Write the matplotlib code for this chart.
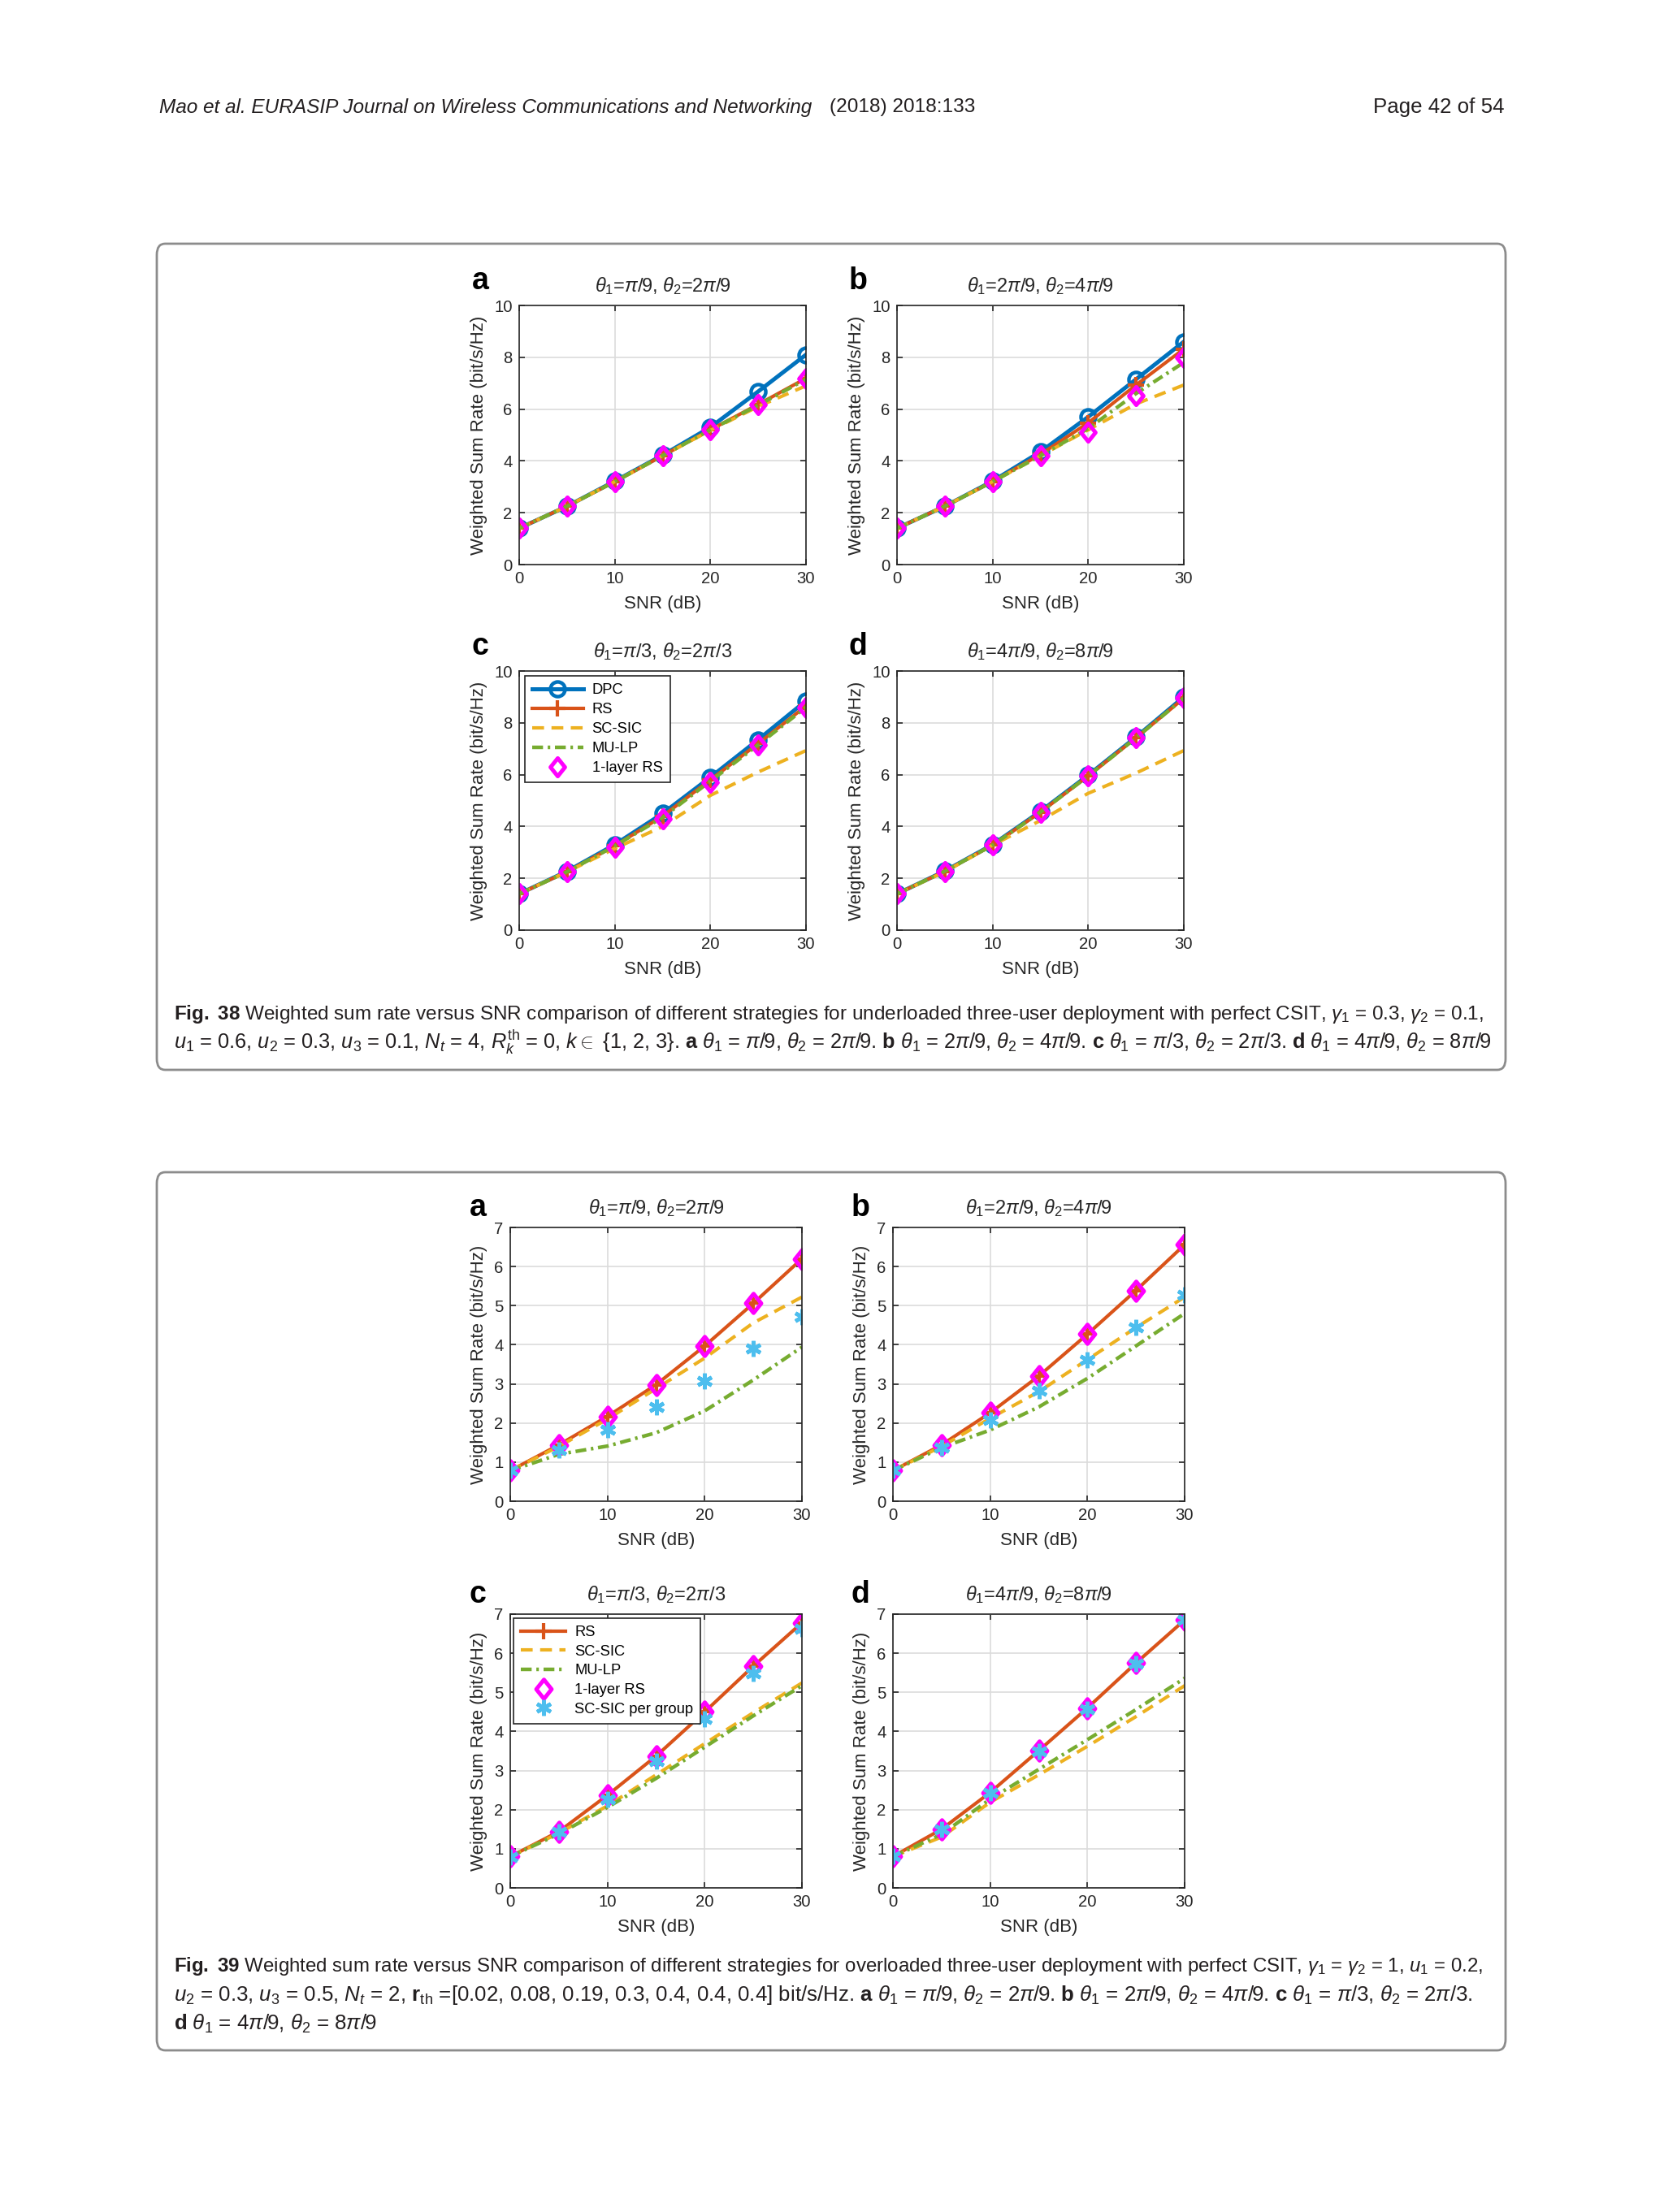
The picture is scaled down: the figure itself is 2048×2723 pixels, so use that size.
import numpy as np
import matplotlib.pyplot as plt
from matplotlib.patches import FancyBboxPatch
from matplotlib.path import Path

plt.rcParams['font.family'] = ['Liberation Sans', 'DejaVu Sans']
plt.rcParams['mathtext.fontset'] = 'custom'
plt.rcParams['mathtext.rm'] = 'Liberation Sans'
plt.rcParams['mathtext.it'] = 'Liberation Sans:italic'
plt.rcParams['mathtext.bf'] = 'Liberation Sans:bold'

# ---- data ----
snr = [0, 5, 10, 15, 20, 25, 30]
panel_letters = ['a', 'b', 'c', 'd']
panel_titles = [
    r'$\theta_1$=$\pi$/9, $\theta_2$=2$\pi$/9',
    r'$\theta_1$=2$\pi$/9, $\theta_2$=4$\pi$/9',
    r'$\theta_1$=$\pi$/3, $\theta_2$=2$\pi$/3',
    r'$\theta_1$=4$\pi$/9, $\theta_2$=8$\pi$/9',
]

# Fig. 38: underloaded three-user deployment (panels a-d)
dpc_38 = [
    [1.40, 2.25, 3.22, 4.22, 5.30, 6.68, 8.10],
    [1.40, 2.25, 3.22, 4.35, 5.70, 7.15, 8.60],
    [1.40, 2.27, 3.30, 4.50, 5.90, 7.35, 8.85],
    [1.40, 2.28, 3.30, 4.58, 5.98, 7.45, 9.00],
]
rs_38 = [
    [1.40, 2.25, 3.20, 4.20, 5.20, 6.18, 7.19],
    [1.40, 2.25, 3.20, 4.25, 5.47, 6.93, 8.32],
    [1.40, 2.25, 3.25, 4.40, 5.80, 7.20, 8.65],
    [1.40, 2.27, 3.28, 4.55, 5.95, 7.42, 8.95],
]
scsic_38 = [
    [1.40, 2.25, 3.20, 4.20, 5.18, 6.10, 6.90],
    [1.40, 2.25, 3.20, 4.20, 5.20, 6.20, 6.93],
    [1.40, 2.25, 3.15, 4.00, 5.20, 6.10, 6.93],
    [1.40, 2.25, 3.28, 4.23, 5.28, 6.06, 6.93],
]
mulp_38 = [
    [1.40, 2.25, 3.20, 4.20, 5.20, 6.15, 7.15],
    [1.40, 2.25, 3.20, 4.20, 5.25, 6.60, 7.80],
    [1.40, 2.25, 3.25, 4.35, 5.75, 7.15, 8.60],
    [1.40, 2.27, 3.28, 4.55, 5.95, 7.42, 8.95],
]
onelayer_38 = [
    [1.40, 2.25, 3.20, 4.20, 5.20, 6.18, 7.19],
    [1.40, 2.25, 3.20, 4.20, 5.10, 6.52, 7.98],
    [1.40, 2.25, 3.20, 4.30, 5.70, 7.15, 8.60],
    [1.40, 2.27, 3.28, 4.55, 5.95, 7.42, 8.95],
]

# Fig. 39: overloaded three-user deployment (panels a-d)
rs_39 = [
    [0.78, 1.44, 2.17, 2.98, 3.97, 5.06, 6.20],
    [0.78, 1.44, 2.26, 3.20, 4.27, 5.39, 6.56],
    [0.80, 1.44, 2.37, 3.37, 4.50, 5.67, 6.78],
    [0.80, 1.50, 2.44, 3.51, 4.60, 5.75, 6.85],
]
scsic_39 = [
    [0.78, 1.40, 2.10, 2.88, 3.66, 4.56, 5.22],
    [0.78, 1.40, 2.12, 2.80, 3.62, 4.44, 5.22],
    [0.80, 1.40, 2.10, 2.89, 3.69, 4.48, 5.24],
    [0.80, 1.30, 2.19, 2.89, 3.62, 4.38, 5.17],
]
mulp_39 = [
    [0.78, 1.20, 1.41, 1.75, 2.31, 3.10, 3.94],
    [0.78, 1.37, 1.82, 2.41, 3.14, 3.97, 4.80],
    [0.80, 1.38, 2.06, 2.80, 3.60, 4.40, 5.17],
    [0.80, 1.37, 2.27, 3.03, 3.79, 4.56, 5.36],
]
onelayer_39 = [
    [0.78, 1.44, 2.16, 2.98, 3.96, 5.06, 6.20],
    [0.78, 1.44, 2.26, 3.20, 4.27, 5.39, 6.56],
    [0.80, 1.44, 2.37, 3.37, 4.50, 5.67, 6.78],
    [0.80, 1.50, 2.44, 3.51, 4.60, 5.75, 6.85],
]
pergroup_39 = [
    [0.78, 1.30, 1.82, 2.40, 3.07, 3.90, 4.72],
    [0.78, 1.38, 2.08, 2.83, 3.62, 4.44, 5.28],
    [0.78, 1.43, 2.27, 3.25, 4.33, 5.48, 6.62],
    [0.80, 1.50, 2.44, 3.48, 4.58, 5.74, 6.85],
]

# ---- styles (MATLAB default colours) ----
C_DPC = '#0072BD'
C_RS = '#D95319'
C_SC = '#EDB120'
C_MU = '#77AC30'
C_1L = '#FF00FF'
C_PG = '#4DBEEE'
C_TXT = '#231f20'

# MATLAB-like diamond (wider than matplotlib's 'd')
DIAMOND = Path([(0, 1), (0.8, 0), (0, -1), (-0.8, 0), (0, 1)],
               [Path.MOVETO, Path.LINETO, Path.LINETO, Path.LINETO,
                Path.CLOSEPOLY])

W, H = 2048, 2723
fig = plt.figure(figsize=(W / 200, H / 200), dpi=200)
renderer = fig.canvas.get_renderer()


def fx(px):
    return px / W


def fy(py):
    return 1 - py / H


def fit_text(t, width_px):
    # scale the font so the text spans the wanted width in pixels
    w = t.get_window_extent(renderer).width
    t.set_fontsize(t.get_fontsize() * width_px / w)
    return t


def make_axes(x0, y0, x1, y1):
    ax = fig.add_axes([fx(x0), fy(y1), (x1 - x0) / W, (y1 - y0) / H])
    ax.set_axisbelow(True)
    ax.grid(True, color='#dcdcdc', lw=0.6)
    for sp in ax.spines.values():
        sp.set_color('#262626')
        sp.set_linewidth(0.6)
    ax.tick_params(direction='in', top=True, right=True, length=2.5,
                   width=0.6, labelsize=7.3, colors='#262626', pad=3)
    ax.set_xlim(0, 30)
    ax.set_xticks([0, 10, 20, 30])
    ax.set_xlabel('SNR (dB)', fontsize=8, color='#262626', labelpad=4)
    ax.set_ylabel('Weighted Sum Rate (bit/s/Hz)', fontsize=8,
                  color='#262626', labelpad=3)
    return ax


# ---- page decorations ----
head = fig.text(fx(196), fy(132),
                'Mao et al. EURASIP Journal on Wireless Communications and Networking',
                fontsize=9.5, style='italic', va='center', ha='left', color=C_TXT)
fit_text(head, 804)
fig.text(fx(1021), fy(132), '(2018) 2018:133', fontsize=head.get_fontsize(),
         va='center', ha='left', color=C_TXT)
fig.text(fx(1852), fy(132), 'Page 42 of 54', fontsize=9.3, va='center',
         ha='right', color=C_TXT)

for (y0, y1) in [(300, 1317), (1443, 2524)]:
    box = FancyBboxPatch((fx(193), fy(y1)), (1853 - 193) / W, (y1 - y0) / H,
                         boxstyle='round,pad=0,rounding_size=0.005',
                         transform=fig.transFigure, fc='none', ec='#8c8c8c',
                         lw=1.0)
    fig.patches.append(box)


def draw_panel_common(ax, i, x0, y0, dy):
    ax.set_title(panel_titles[i], fontsize=8.5, color='#262626', pad=6)
    fig.text(fx(x0 - 48), fy(y0 - dy), panel_letters[i], fontsize=13.5,
             fontweight='bold', ha='center', va='center')


# ---- Fig. 38 ----
pos_38 = [(639, 376, 992, 695), (1104, 376, 1457, 695),
          (639, 826, 992, 1145), (1104, 826, 1457, 1145)]
for i, (x0, y0, x1, y1) in enumerate(pos_38):
    ax = make_axes(x0, y0, x1, y1)
    ax.set_ylim(0, 10)
    ax.set_yticks(range(0, 11, 2))
    ax.plot(snr, dpc_38[i], color=C_DPC, lw=1.8, marker='o', ms=6.5,
            mfc='none', mew=1.6, label='DPC')
    ax.plot(snr, rs_38[i], color=C_RS, lw=1.5, marker='+', ms=7, mew=1.5,
            label='RS')
    ax.plot(snr, scsic_38[i], color=C_SC, lw=1.5, dashes=(3.5, 2.2),
            label='SC-SIC')
    ax.plot(snr, mulp_38[i], color=C_MU, lw=1.6, dashes=(3, 1.3, 0.7, 1.3),
            label='MU-LP')
    ax.plot(snr, onelayer_38[i], ls='none', marker=DIAMOND, ms=8,
            mfc='none', mec=C_1L, mew=1.8, label='1-layer RS')
    draw_panel_common(ax, i, x0, y0, 30)
    if i == 2:
        leg = ax.legend(loc='upper left', bbox_to_anchor=(0.02, 0.981),
                        borderaxespad=0, fontsize=6.6, numpoints=1,
                        handlelength=3.4, handletextpad=0.6,
                        labelspacing=0.38, fancybox=False, framealpha=1,
                        edgecolor='#262626', borderpad=0.5)
        leg.get_frame().set_linewidth(0.6)

cap38 = [
    r'$\mathbf{Fig.\ 38}$ Weighted sum rate versus SNR comparison of different strategies for underloaded three-user deployment with perfect CSIT, $\gamma_1$ = 0.3, $\gamma_2$ = 0.1,',
    r'$u_1$ = 0.6, $u_2$ = 0.3, $u_3$ = 0.1, $N_t$ = 4, $R_k^{\rm th}$ = 0, $k \in$ {1, 2, 3}. $\mathbf{a}$ $\theta_1$ = $\pi$/9, $\theta_2$ = 2$\pi$/9. $\mathbf{b}$ $\theta_1$ = 2$\pi$/9, $\theta_2$ = 4$\pi$/9. $\mathbf{c}$ $\theta_1$ = $\pi$/3, $\theta_2$ = 2$\pi$/3. $\mathbf{d}$ $\theta_1$ = 4$\pi$/9, $\theta_2$ = 8$\pi$/9',
]
for line, yy, ww in zip(cap38, [1248, 1283], [1619, 1622]):
    t = fig.text(fx(214), fy(yy), line, fontsize=8, va='center', ha='left',
                 color=C_TXT)
    fit_text(t, ww)

# ---- Fig. 39 ----
pos_39 = [(628, 1511, 987, 1848), (1099, 1511, 1458, 1848),
          (628, 1987, 987, 2324), (1099, 1987, 1458, 2324)]
for i, (x0, y0, x1, y1) in enumerate(pos_39):
    ax = make_axes(x0, y0, x1, y1)
    ax.set_ylim(0, 7)
    ax.set_yticks(range(0, 8))
    ax.plot(snr, rs_39[i], color=C_RS, lw=1.5, marker='+', ms=7, mew=1.5,
            label='RS')
    ax.plot(snr, scsic_39[i], color=C_SC, lw=1.5, dashes=(3.5, 2.2),
            label='SC-SIC')
    ax.plot(snr, mulp_39[i], color=C_MU, lw=1.6, dashes=(3, 1.3, 0.7, 1.3),
            label='MU-LP')
    ax.plot(snr, onelayer_39[i], ls='none', marker=DIAMOND, ms=8.5,
            mfc='none', mec=C_1L, mew=1.8, label='1-layer RS')
    ax.plot(snr, pergroup_39[i], ls='none', marker=(6, 2, 0), ms=7,
            mec=C_PG, mew=1.7, label='SC-SIC per group')
    draw_panel_common(ax, i, x0 + 8, y0, 24)
    if i == 2:
        leg = ax.legend(loc='upper left', bbox_to_anchor=(0.011, 0.985),
                        borderaxespad=0, fontsize=6.6, numpoints=1,
                        handlelength=3.0, handletextpad=0.6,
                        labelspacing=0.36, fancybox=False, framealpha=1,
                        edgecolor='#262626', borderpad=0.5)
        leg.get_frame().set_linewidth(0.6)

cap39 = [
    r'$\mathbf{Fig.\ 39}$ Weighted sum rate versus SNR comparison of different strategies for overloaded three-user deployment with perfect CSIT, $\gamma_1$ = $\gamma_2$ = 1, $u_1$ = 0.2,',
    r'$u_2$ = 0.3, $u_3$ = 0.5, $N_t$ = 2, $\mathbf{r}_{\rm th}$ =[0.02, 0.08, 0.19, 0.3, 0.4, 0.4, 0.4] bit/s/Hz. $\mathbf{a}$ $\theta_1$ = $\pi$/9, $\theta_2$ = 2$\pi$/9. $\mathbf{b}$ $\theta_1$ = 2$\pi$/9, $\theta_2$ = 4$\pi$/9. $\mathbf{c}$ $\theta_1$ = $\pi$/3, $\theta_2$ = 2$\pi$/3.',
]
sizes = []
for line, yy, ww in zip(cap39, [2420, 2456], [1619, 1598]):
    t = fig.text(fx(214), fy(yy), line, fontsize=8, va='center', ha='left',
                 color=C_TXT)
    fit_text(t, ww)
    sizes.append(t.get_fontsize())
fig.text(fx(214), fy(2491),
         r'$\mathbf{d}$ $\theta_1$ = 4$\pi$/9, $\theta_2$ = 8$\pi$/9',
         fontsize=sizes[-1], va='center', ha='left', color=C_TXT)

fig.savefig('out.png', dpi=200, facecolor='white')
